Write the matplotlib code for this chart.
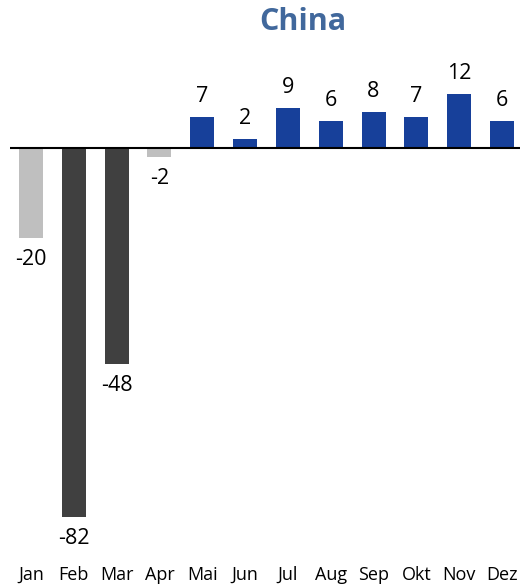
import numpy as np
import matplotlib.pyplot as plt

months = ["Jan", "Feb", "Mar", "Apr", "Mai", "Jun", "Jul", "Aug", "Sep", "Okt", "Nov", "Dez"]
values = [-20, -82, -48, -2, 7, 2, 9, 6, 8, 7, 12, 6]
colors = ["#bfbfbf", "#404040", "#404040", "#bfbfbf"] + ["#17409a"] * 8

plt.rcParams['font.family'] = ['Open Sans', 'DejaVu Sans']

fig = plt.figure(figsize=(5.2, 5.86), dpi=100)
ax = fig.add_axes([10 / 520, 46 / 586, 510 / 520, 480 / 586])

x = np.arange(len(months))
ax.bar(x, values, width=0.56, color=colors, zorder=2)
ax.axhline(0, color="black", lw=1.5, zorder=3)

for xi, v in zip(x, values):
    if v >= 0:
        ax.annotate(str(v), (xi, v), xytext=(0, 7), textcoords="offset points",
                    ha="center", va="bottom", fontsize=15.5)
    else:
        ax.annotate(str(v), (xi, v), xytext=(0, -8), textcoords="offset points",
                    ha="center", va="top", fontsize=15.5)

ax.set_xlim(-0.49, 11.42)
ax.set_ylim(-87.1, 19.56)
ax.axis("off")

for xi, m in zip(x, months):
    ax.text(xi, -87.1 - 35 / 4.5, m, ha="center", va="center", fontsize=13,
            clip_on=False)

fig.text(303 / 520, 1 - 22 / 586, "China", ha="center", va="center",
         fontsize=22, fontweight="bold", color="#41689c")

fig.savefig("out.png", dpi=100)
